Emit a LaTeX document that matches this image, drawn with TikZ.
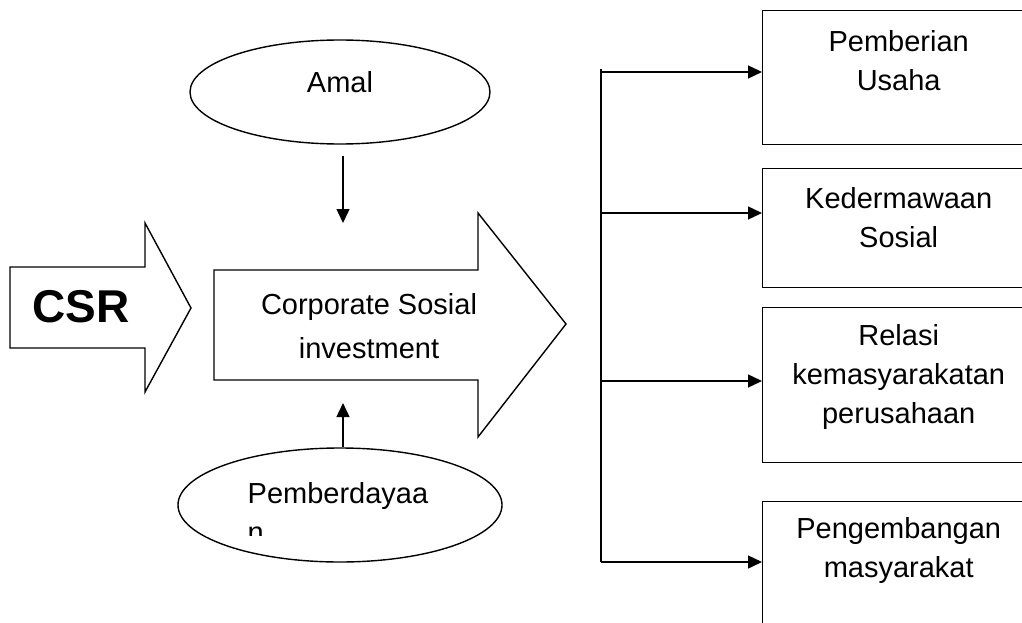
\documentclass[tikz,border=0pt]{standalone}
\usepackage{fontspec}
\setmainfont{Liberation Sans}
\usetikzlibrary{arrows.meta,positioning,shapes.geometric}

\begin{document}
\begin{tikzpicture}[x=1pt, y=-1pt, line width=1.4pt,
        arr/.style={-{Triangle[length=14pt, width=13pt]}},
        oval/.style={draw, ellipse, inner sep=0pt},
        box/.style={draw, rectangle, anchor=north west, inner sep=0pt, minimum width=300pt},
        txt/.style={font=\fontsize{29}{39}\selectfont, align=center, inner sep=0pt}]
        \useasboundingbox (0, 0) rectangle (1022, 623);
        \clip (0, 0) rectangle (1022, 623);
        % CSR arrow
        \draw (10, 267) -- (145, 267) -- (145, 223) -- (191, 308) -- (145, 392) -- (145, 348) -- (10, 348) -- cycle;
        \node[font=\fontsize{46}{50}\selectfont\bfseries, inner sep=0pt, anchor=base] (csr) at (81, 322) {CSR};
        % big arrow
        \draw (214, 270) -- (478, 270) -- (478, 213) -- (566, 324) -- (478, 437) -- (478, 380) -- (214, 380) -- cycle;
        \node[txt, font=\fontsize{29}{44}\selectfont, anchor=north] (csi) at (369, 293) {Corporate Sosial\\investment};
        % ovals
        \node[oval, minimum width=300pt, minimum height=104pt] (amal) at (340, 92) {};
        \node[txt, anchor=base] (amaltxt) at (340, 93) {Amal};
        \node[oval, minimum width=324pt, minimum height=114pt] (daya) at (340, 505) {};
        \begin{scope}
            \clip (230, 470) rectangle (450, 535);
            \node[txt, align=left, anchor=north west] (dayatxt) at (247, 482) {Pemberdayaa\\n};
        \end{scope}
        \coordinate (amalend) at (343, 223);
        \coordinate (dayaend) at (343, 403);
        \draw[arr] ([xshift=3pt, yshift=-11pt]amal.south) -- (amalend);
        \draw[arr] ([xshift=3pt]daya.north) -- (dayaend);
        % boxes
        \node[box, minimum height=134pt] (b1) at (762, 10) {};
        \node[box, minimum height=119pt] (b2) at (762, 168) {};
        \node[box, minimum height=155pt] (b3) at (762, 307) {};
        \node[box, minimum height=160pt] (b4) at (762, 501) {};
        \node[txt, anchor=north, below=20pt of b1.north, xshift=-14pt] (t1) {Pemberian\\Usaha};
        \node[txt, anchor=north, below=19pt of b2.north, xshift=-14pt] (t2) {Kedermawaan\\Sosial};
        \node[txt, anchor=north, below=17pt of b3.north, xshift=-14pt] (t3) {Relasi\\kemasyarakatan\\perusahaan};
        \node[txt, anchor=north, below=16pt of b4.north, xshift=-14pt] (t4) {Pengembangan\\masyarakat};
        % branches
        \coordinate (trunk) at (601, 69);
        \coordinate (a1) at (601, 72);
        \coordinate (a2) at (601, 213);
        \coordinate (a3) at (601, 381);
        \coordinate (a4) at (601, 562);
        \draw (trunk) -- (a4);
        \foreach \i in {1,...,4}
            \draw[arr] (a\i) -- (a\i -| b\i.west);
    \end{tikzpicture}
\end{document}
